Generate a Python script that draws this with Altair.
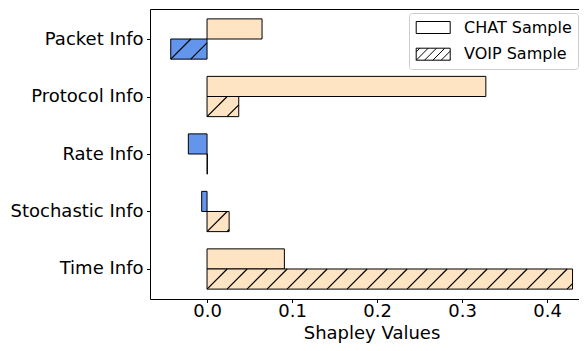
import altair as alt
import pandas as pd

# ---- data ----
categories = ["Packet Info", "Protocol Info", "Rate Info", "Stochastic Info", "Time Info"]
chat_values = [0.0647, 0.328, -0.022, -0.0063, 0.091]
voip_values = [-0.0427, 0.0373, 0.0004, 0.026, 0.430]
series_names = ["CHAT Sample", "VOIP Sample"]
x_ticks = [0.0, 0.1, 0.2, 0.3, 0.4]

# ---- layout / style ----
W = 429
H = 290
X_DOMAIN = [-0.0671, 0.4376]
Y_DOMAIN = [-0.522, 4.522]
BAR_H = 0.35
POS_COLOR = "#FFE4C4"
NEG_COLOR = "#6495ED"
HATCH_PX = 20.0
FONT = "DejaVu Sans"

rows = []
for i, cat in enumerate(categories):
    for name, vals, off in ((series_names[0], chat_values, -BAR_H), (series_names[1], voip_values, 0.0)):
        v = vals[i]
        rows.append(dict(category=cat, series=name, value=v, zero=0.0,
                         y0=i + off, y1=i + off + BAR_H,
                         color=POS_COLOR if v >= 0 else NEG_COLOR))
bars = pd.DataFrame(rows)


def to_px_x(v):
    return (v - X_DOMAIN[0]) / (X_DOMAIN[1] - X_DOMAIN[0]) * W


def to_px_y(p):
    return (p - Y_DOMAIN[0]) / (Y_DOMAIN[1] - Y_DOMAIN[0]) * H


def from_px_x(px):
    return X_DOMAIN[0] + px / W * (X_DOMAIN[1] - X_DOMAIN[0])


def from_px_y(py):
    return Y_DOMAIN[0] + py / H * (Y_DOMAIN[1] - Y_DOMAIN[0])


# hatch segments ("/") for the VOIP bars, clipped to each bar
hatch = []
for _, r in bars[bars.series == series_names[1]].iterrows():
    x0 = to_px_x(min(r.value, 0.0))
    x1 = to_px_x(max(r.value, 0.0))
    ya = to_px_y(r.y0)
    yb = to_px_y(r.y1)
    if x1 - x0 < 1:
        continue
    for k in range(-3, 80):
        C = x0 + yb + k * HATCH_PX
        ylo = max(ya, C - x1)
        yhi = min(yb, C - x0)
        if yhi - ylo > 0.5:
            hatch.append(dict(hx=from_px_x(C - yhi), hy=from_px_y(yhi),
                              hx2=from_px_x(C - ylo), hy2=from_px_y(ylo)))
hatch_df = pd.DataFrame(hatch)

# legend symbols as custom paths (unit = sqrt(size)/2 px)
SYM_L, SYM_R, SYM_H = -0.9125, 3.3375, 0.75
rect_path = f"M{SYM_L},{-SYM_H}L{SYM_R},{-SYM_H}L{SYM_R},{SYM_H}L{SYM_L},{SYM_H}Z"
hp = []
step = 1.04
for k in range(-2, 8):
    C = SYM_L + SYM_H + k * step
    ylo = max(-SYM_H, C - SYM_R)
    yhi = min(SYM_H, C - SYM_L)
    if yhi - ylo > 0.05:
        hp.append(f"M{C - yhi:.3f},{yhi:.3f}L{C - ylo:.3f},{ylo:.3f}")
voip_path = rect_path + "".join(hp)

x_scale = alt.Scale(domain=X_DOMAIN, nice=False, zero=False)
y_scale = alt.Scale(domain=Y_DOMAIN, nice=False, zero=False, reverse=True)

label_expr = "[" + ",".join(f"'{c}'" for c in categories) + "][datum.value]"
y_axis = alt.Axis(values=list(range(len(categories))), labelExpr=label_expr, title=None,
                  grid=False, labelFontSize=18, labelColor="black", tickColor="black",
                  tickSize=3.5, labelPadding=3.5, domainColor="black", labelFont=FONT)

x_axis = alt.Axis(values=x_ticks, format=".1f", title="Shapley Values", grid=False,
                  labelFontSize=18, labelColor="black", tickColor="black", tickSize=3.5,
                  labelPadding=0, domainColor="black", titleFontSize=18,
                  titleFontWeight="normal", titleColor="black", titleX=221.5,
                  titleY=25.5, titleBaseline="top", labelFont=FONT, titleFont=FONT)

top_axis = alt.Axis(orient="top", labels=False, ticks=False, title=None, grid=False,
                    domainColor="black")

bar_layer = alt.Chart(bars).mark_rect(stroke="black", strokeWidth=1).encode(
    x=alt.X("value:Q", scale=x_scale, axis=x_axis),
    x2="zero",
    y=alt.Y("y0:Q", scale=y_scale, axis=y_axis),
    y2="y1",
    fill=alt.Fill("color:N", scale=None),
)

hatch_layer = alt.Chart(hatch_df).mark_rule(stroke="black", strokeWidth=1.2).encode(
    x=alt.X("hx:Q", scale=x_scale, axis=top_axis),
    x2="hx2",
    y=alt.Y("hy:Q", scale=y_scale, axis=y_axis),
    y2="hy2",
)

legend_layer = alt.Chart(bars).transform_filter("false").mark_point().encode(
    x=alt.X("zero:Q", scale=x_scale, axis=None),
    y=alt.Y("y0:Q", scale=y_scale, axis=y_axis),
    shape=alt.Shape(
        "series:N",
        scale=alt.Scale(domain=series_names, range=[rect_path, voip_path]),
        legend=alt.Legend(title=None, orient="none", legendX=259, legendY=4),
    ),
)

chart = alt.layer(bar_layer, hatch_layer, legend_layer).resolve_axis(
    x="independent"
).properties(
    width=W,
    height=H,
    autosize=alt.AutoSizeParams(type="none"),
    padding={"left": 142, "top": 1, "right": 0, "bottom": 44},
).configure_view(strokeWidth=0).configure(font=FONT).configure_legend(
    padding=6, rowPadding=9.7, symbolSize=256, labelOffset=32, labelFontSize=16,
    labelFont=FONT, labelColor="black", strokeColor="#cccccc", cornerRadius=3,
    fillColor="white", symbolStrokeWidth=1, symbolStrokeColor="black",
    symbolFillColor="white", symbolOpacity=1,
)

chart.save("out.html", embed_options={"renderer": "svg", "actions": False})
